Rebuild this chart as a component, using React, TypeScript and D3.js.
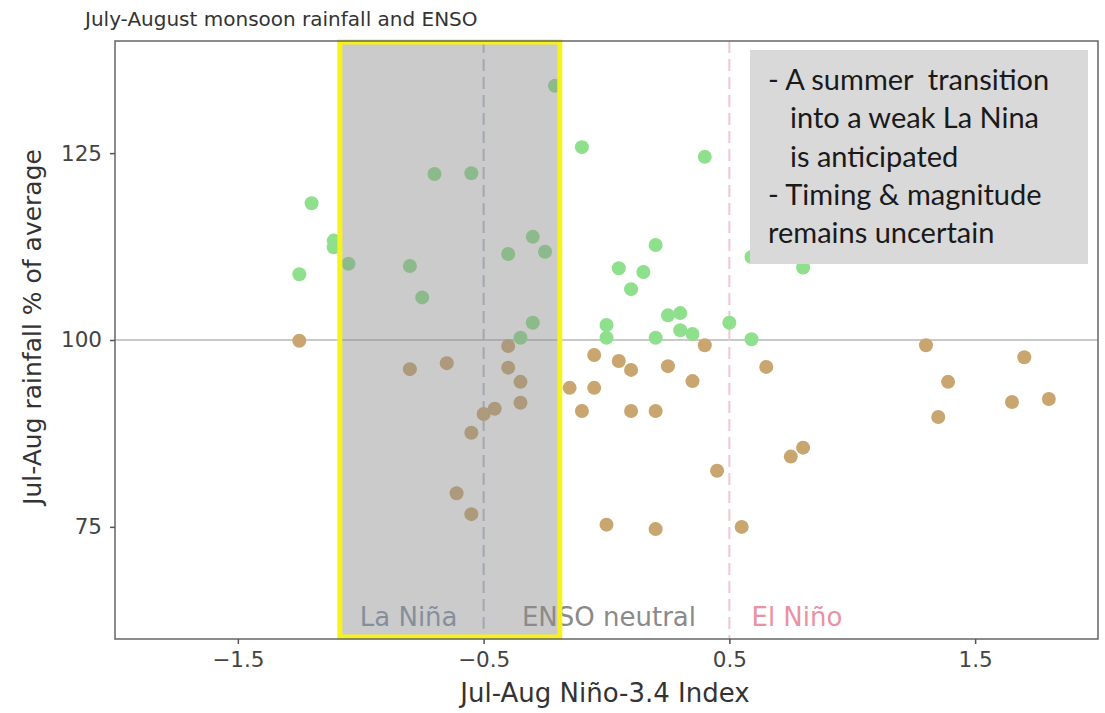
import React, { useEffect, useRef } from 'react'
import * as d3 from 'd3'

// Niño-3.4 index vs rainfall, years with above-average rain
const wetNino = [-0.70, -0.55, -1.20, -1.11, -1.11, -1.05, -0.80, -1.25, -0.75, -0.21, -0.10, 0.40, -0.30, -0.40, -0.25, 0.20, 0.05, 0.15, 0.10, 0.59, 0.80, -0.30, -0.35, 0.0, 0.0, 0.20, 0.25, 0.30, 0.30, 0.35, 0.50, 0.59]
const wetRain = [122.2, 122.3, 118.3, 113.3, 112.4, 110.2, 109.9, 108.8, 105.7, 134.0, 125.8, 124.5, 113.8, 111.5, 111.8, 112.7, 109.6, 109.1, 106.8, 111.1, 109.7, 102.3, 100.3, 102.0, 100.3, 100.3, 103.3, 103.6, 101.3, 100.8, 102.3, 100.1]

// years with below-average rain
const dryNino = [-1.25, -0.80, -0.65, -0.50, -0.455, -0.55, -0.61, -0.55, -0.40, -0.40, -0.35, -0.35, -0.05, 0.05, 0.10, 0.25, 0.40, 0.35, -0.15, -0.05, -0.10, 0.10, 0.20, 0.65, 0.80, 0.75, 0.45, 0.0, 0.20, 0.55, 1.30, 1.39, 1.35, 1.70, 1.65, 1.80]
const dryRain = [99.9, 96.1, 96.9, 90.1, 90.8, 87.6, 79.5, 76.7, 99.2, 96.3, 94.4, 91.6, 98.0, 97.2, 96.0, 96.5, 99.3, 94.5, 93.6, 93.6, 90.5, 90.5, 90.5, 96.4, 85.6, 84.4, 82.5, 75.3, 74.7, 75.0, 99.3, 94.4, 89.7, 97.7, 91.7, 92.1]

const xTicks = [-1.5, -0.5, 0.5, 1.5]
const yTicks = [75, 100, 125]
const highlight = [-1.085, -0.19]
const phases = [
  { label: 'La Niña', at: -0.805, color: '#7f93ad' },
  { label: 'ENSO neutral', at: 0.01, color: '#8a8a8a' },
  { label: 'El Niño', at: 0.775, color: '#e892a4' },
]
const noteLines = [
  { text: '- A summer  transition', indent: 0 },
  { text: 'into a weak La Nina', indent: 1 },
  { text: 'is anticipated', indent: 1 },
  { text: '- Timing & magnitude', indent: 0 },
  { text: 'remains uncertain', indent: 0 },
]

const W = 1105
const H = 713
const FONT = '"DejaVu Sans", sans-serif'

export default function App() {
  const svgRef = useRef<SVGSVGElement>(null)

  useEffect(() => {
    if (!svgRef.current) return
    const svg = d3.select(svgRef.current)
    svg.selectAll('*').remove()

    const left = 115, right = 1098, top = 41, bottom = 639
    const x = d3.scaleLinear().domain([-2, 2]).range([left, right])
    const y = d3.scaleLinear().domain([60, 140]).range([bottom, top])

    svg.append('rect').attr('width', W).attr('height', H).attr('fill', '#fff')

    // reference lines
    svg.append('line')
      .attr('x1', left).attr('x2', right).attr('y1', y(100)).attr('y2', y(100))
      .attr('stroke', '#c9c9c9').attr('stroke-width', 2)
    svg.append('line')
      .attr('x1', x(-0.5)).attr('x2', x(-0.5)).attr('y1', top).attr('y2', bottom)
      .attr('stroke', '#b3bfcf').attr('stroke-width', 2).attr('stroke-dasharray', '12,6')
    svg.append('line')
      .attr('x1', x(0.5)).attr('x2', x(0.5)).attr('y1', top).attr('y2', bottom)
      .attr('stroke', '#f2c6d0').attr('stroke-width', 2).attr('stroke-dasharray', '12,6')

    // phase labels
    svg.append('g').selectAll('text').data(phases).join('text')
      .attr('x', (d) => x(d.at)).attr('y', 626)
      .attr('text-anchor', 'middle')
      .attr('font-family', FONT).attr('font-size', 26)
      .attr('fill', (d) => d.color)
      .text((d) => d.label)

    const wet = wetNino.map((v, i) => [v, wetRain[i]])
    const dry = dryNino.map((v, i) => [v, dryRain[i]])

    svg.append('g').selectAll('circle').data(wet).join('circle')
      .attr('cx', (d) => x(d[0])).attr('cy', (d) => y(d[1])).attr('r', 7)
      .attr('fill', '#8fe08c')
    svg.append('g').selectAll('circle').data(dry).join('circle')
      .attr('cx', (d) => x(d[0])).attr('cy', (d) => y(d[1])).attr('r', 7)
      .attr('fill', '#c9a66f')

    // highlighted box over La Niña side
    svg.append('rect')
      .attr('x', x(highlight[0])).attr('y', top + 1)
      .attr('width', x(highlight[1]) - x(highlight[0])).attr('height', bottom - top - 3)
      .attr('fill', '#8c8c8c').attr('fill-opacity', 0.45)
      .attr('stroke', '#f6f21a').attr('stroke-width', 5)

    // annotation box
    svg.append('rect')
      .attr('x', 750).attr('y', 50).attr('width', 338).attr('height', 214)
      .attr('fill', '#d9d9d9')
    svg.append('g').selectAll('text').data(noteLines).join('text')
      .attr('x', (d) => (d.indent ? 790 : 768)).attr('y', (_, i) => 90 + i * 38.3)
      .style('white-space', 'pre')
      .attr('font-family', 'Lato, "Open Sans", sans-serif').attr('font-size', 29)
      .attr('fill', '#1a1a1a')
      .text((d) => d.text)

    // frame
    svg.append('rect')
      .attr('x', left).attr('y', top).attr('width', right - left).attr('height', bottom - top)
      .attr('fill', 'none').attr('stroke', '#666').attr('stroke-width', 1.5)

    const xAxis = svg.append('g').attr('transform', `translate(0,${bottom})`)
      .call(d3.axisBottom(x).tickValues(xTicks).tickSize(5).tickPadding(8)
        .tickFormat((d) => d3.format('.1f')(+d).replace('-', '\u2212')))
    const yAxis = svg.append('g').attr('transform', `translate(${left},0)`)
      .call(d3.axisLeft(y).tickValues(yTicks).tickSize(5).tickPadding(8))
    for (const ax of [xAxis, yAxis]) {
      ax.select('.domain').remove()
      ax.selectAll('line').attr('stroke', '#555').attr('stroke-width', 1.5)
      ax.selectAll('text').attr('font-family', FONT).attr('font-size', 21.5).attr('fill', '#444')
    }

    svg.append('text')
      .attr('x', 85).attr('y', 26)
      .attr('font-family', FONT).attr('font-size', 20).attr('fill', '#333')
      .text('July-August monsoon rainfall and ENSO')
    svg.append('text')
      .attr('x', 605).attr('y', 702).attr('text-anchor', 'middle')
      .attr('font-family', FONT).attr('font-size', 26).attr('fill', '#333')
      .text('Jul-Aug Niño-3.4 Index')
    svg.append('text')
      .attr('transform', `translate(41,327) rotate(-90)`).attr('text-anchor', 'middle')
      .attr('font-family', FONT).attr('font-size', 25).attr('fill', '#333')
      .text('Jul-Aug rainfall % of average')
  }, [])

  return <svg ref={svgRef} width={W} height={H} style={{ position: 'absolute', left: 0, top: 0 }} />
}
